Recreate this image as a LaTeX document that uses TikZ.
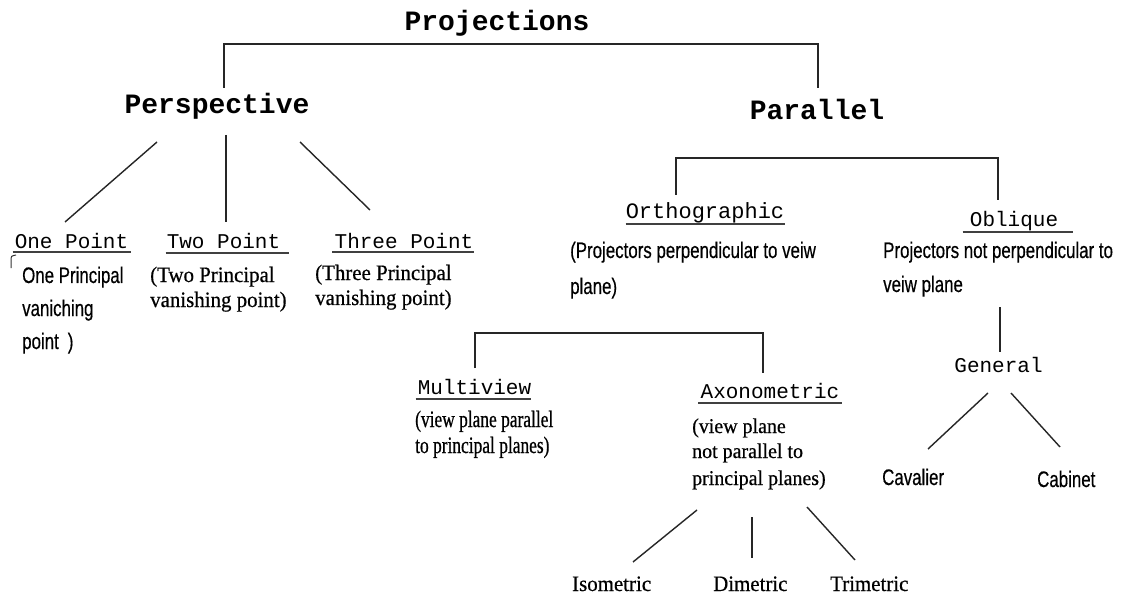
\documentclass[tikz,border=0pt]{standalone}
\usepackage{fontspec}
\setmainfont{Liberation Serif}
\newfontfamily\monof{Liberation Mono}
\newfontfamily\sansn[FakeStretch=0.75,FakeBold=0.4]{Liberation Sans}
\newfontfamily\serifn[FakeStretch=0.74,FakeBold=0.6]{Liberation Serif}
\newfontfamily\serifw[FakeStretch=0.95,FakeBold=0.5]{Liberation Serif}
\newcommand\ulin[4]{\draw[uline] ([xshift=-#2pt,yshift=-#4pt]#1.base west) -- ([xshift=#3pt,yshift=-#4pt]#1.base east);}
\begin{document}
\begin{tikzpicture}[x=1pt,y=-1pt,
  toph/.style={font=\monof\bfseries\fontsize{28}{30}\selectfont, inner sep=0, anchor=base},
  head/.style={font=\monof\fontsize{21}{24}\selectfont, inner sep=0, anchor=base},
  nsans/.style={font=\sansn\fontsize{22.5}{24}\selectfont, inner sep=0, anchor=base west},
  sern/.style={font=\serifn\fontsize{23.5}{24}\selectfont, inner sep=0, anchor=base west},
  serw/.style={font=\serifw\fontsize{21}{24}\selectfont, inner sep=0, anchor=base west},
  serl/.style={font=\serifw\fontsize{22}{24}\selectfont, inner sep=0, anchor=base west},
  conn/.style={line width=1.4pt, draw=black!85},
  uline/.style={line width=2.4pt, draw=black!75}]
\useasboundingbox[fill=white] (0,0) rectangle (1122,596);

% headings
\node[toph] (proj) at (497,31) {Projections};
\node[toph] (persp) at (217,114) {Perspective};
\node[toph] (para) at (817,120) {Parallel};
\node[head] (one) at (71.5,248) {One Point};
\node[head] (two) at (223.5,248) {Two Point};
\node[head] (three) at (404,248) {Three Point};
\node[head, font=\monof\fontsize{22}{24}\selectfont] (ortho) at (705,219) {Orthographic};
\node[head] (obl) at (1014,227) {Oblique};
\node[head] (multi) at (474.5,394) {Multiview};
\node[head] (axo) at (770,398) {Axonometric};
\node[head] (gen) at (998.5,372) {General};

% underlines
\ulin{one}{2}{3}{4}
\ulin{two}{1}{9}{5}
\ulin{three}{2}{0}{4}
\ulin{ortho}{0}{1}{5}
\ulin{obl}{7}{15}{5}
\ulin{multi}{2}{0}{5}
\ulin{axo}{2}{2}{5}

% descriptions
\node[nsans] (d1a) at (22,283) {One Principal};
\node[nsans] (d1b) at (22,316) {vaniching};
\node[nsans] (d1c) at (22,349) {point\hspace{9pt})};
\draw[line width=1pt, black!80] (16,255) .. controls (11,256) .. (11,261) -- (11,268);
\node[serl] (d2a) at (150,282) {(Two Principal};
\node[serl] (d2b) at (150,307) {vanishing point)};
\node[serl] (d3a) at (315,280) {(Three Principal};
\node[serl] (d3b) at (315,305) {vanishing point)};
\node[nsans] (doa) at (570,258) {(Projectors perpendicular to veiw};
\node[nsans] (dob) at (570,294) {plane)};
\node[nsans] (dqa) at (883,258) {Projectors not perpendicular to};
\node[nsans] (dqb) at (883,292) {veiw plane};
\node[sern] (dma) at (415,427) {(view plane parallel};
\node[sern] (dmb) at (415,453) {to principal planes)};
\node[serw] (daa) at (692,433) {(view plane};
\node[serw] (dab) at (692,458) {not parallel to};
\node[serw] (dac) at (692,485) {principal planes)};
\node[nsans] (cav) at (882,485) {Cavalier};
\node[nsans] (cab) at (1037,487) {Cabinet};
\node[serl] (iso) at (572,591) {Isometric};
\node[serl] (dim) at (713,591) {Dimetric};
\node[serl] (tri) at (830,591) {Trimetric};

% connector end points
\coordinate (pl) at (224,88);  \coordinate (plt) at (224,44);
\coordinate (pr) at (818,88);  \coordinate (prt) at (818,44);
\coordinate (a1s) at (157,142); \coordinate (a1e) at (65,222);
\coordinate (a2s) at (226,135); \coordinate (a2e) at (226,222);
\coordinate (a3s) at (300,142); \coordinate (a3e) at (370,210);
\coordinate (ol) at (676,195); \coordinate (olt) at (676,158);
\coordinate (or) at (998,200); \coordinate (ort) at (998,158);
\coordinate (g1) at (1000,307); \coordinate (g2) at (1000,352);
\coordinate (b1s) at (988,393); \coordinate (b1e) at (928,449);
\coordinate (b2s) at (1011,393); \coordinate (b2e) at (1060,447);
\coordinate (ml) at (475,368); \coordinate (mlt) at (475,333);
\coordinate (mr) at (763,373); \coordinate (mrt) at (763,333);
\coordinate (x1s) at (697,510); \coordinate (x1e) at (633,562);
\coordinate (x2s) at (752,517); \coordinate (x2e) at (752,558);
\coordinate (x3s) at (807,507); \coordinate (x3e) at (855,560);

% connectors
\draw[conn] (pl) -- (plt) -- (prt) -- (pr);
\draw[conn] (a1s) -- (a1e);
\draw[conn] (a2s) -- (a2e);
\draw[conn] (a3s) -- (a3e);
\draw[conn] (ol) -- (olt) -- (ort) -- (or);
\draw[conn] (g1) -- (g2);
\draw[conn] (b1s) -- (b1e);
\draw[conn] (b2s) -- (b2e);
\draw[conn] (ml) -- (mlt) -- (mrt) -- (mr);
\draw[conn] (x1s) -- (x1e);
\draw[conn] (x2s) -- (x2e);
\draw[conn] (x3s) -- (x3e);
\end{tikzpicture}
\end{document}
